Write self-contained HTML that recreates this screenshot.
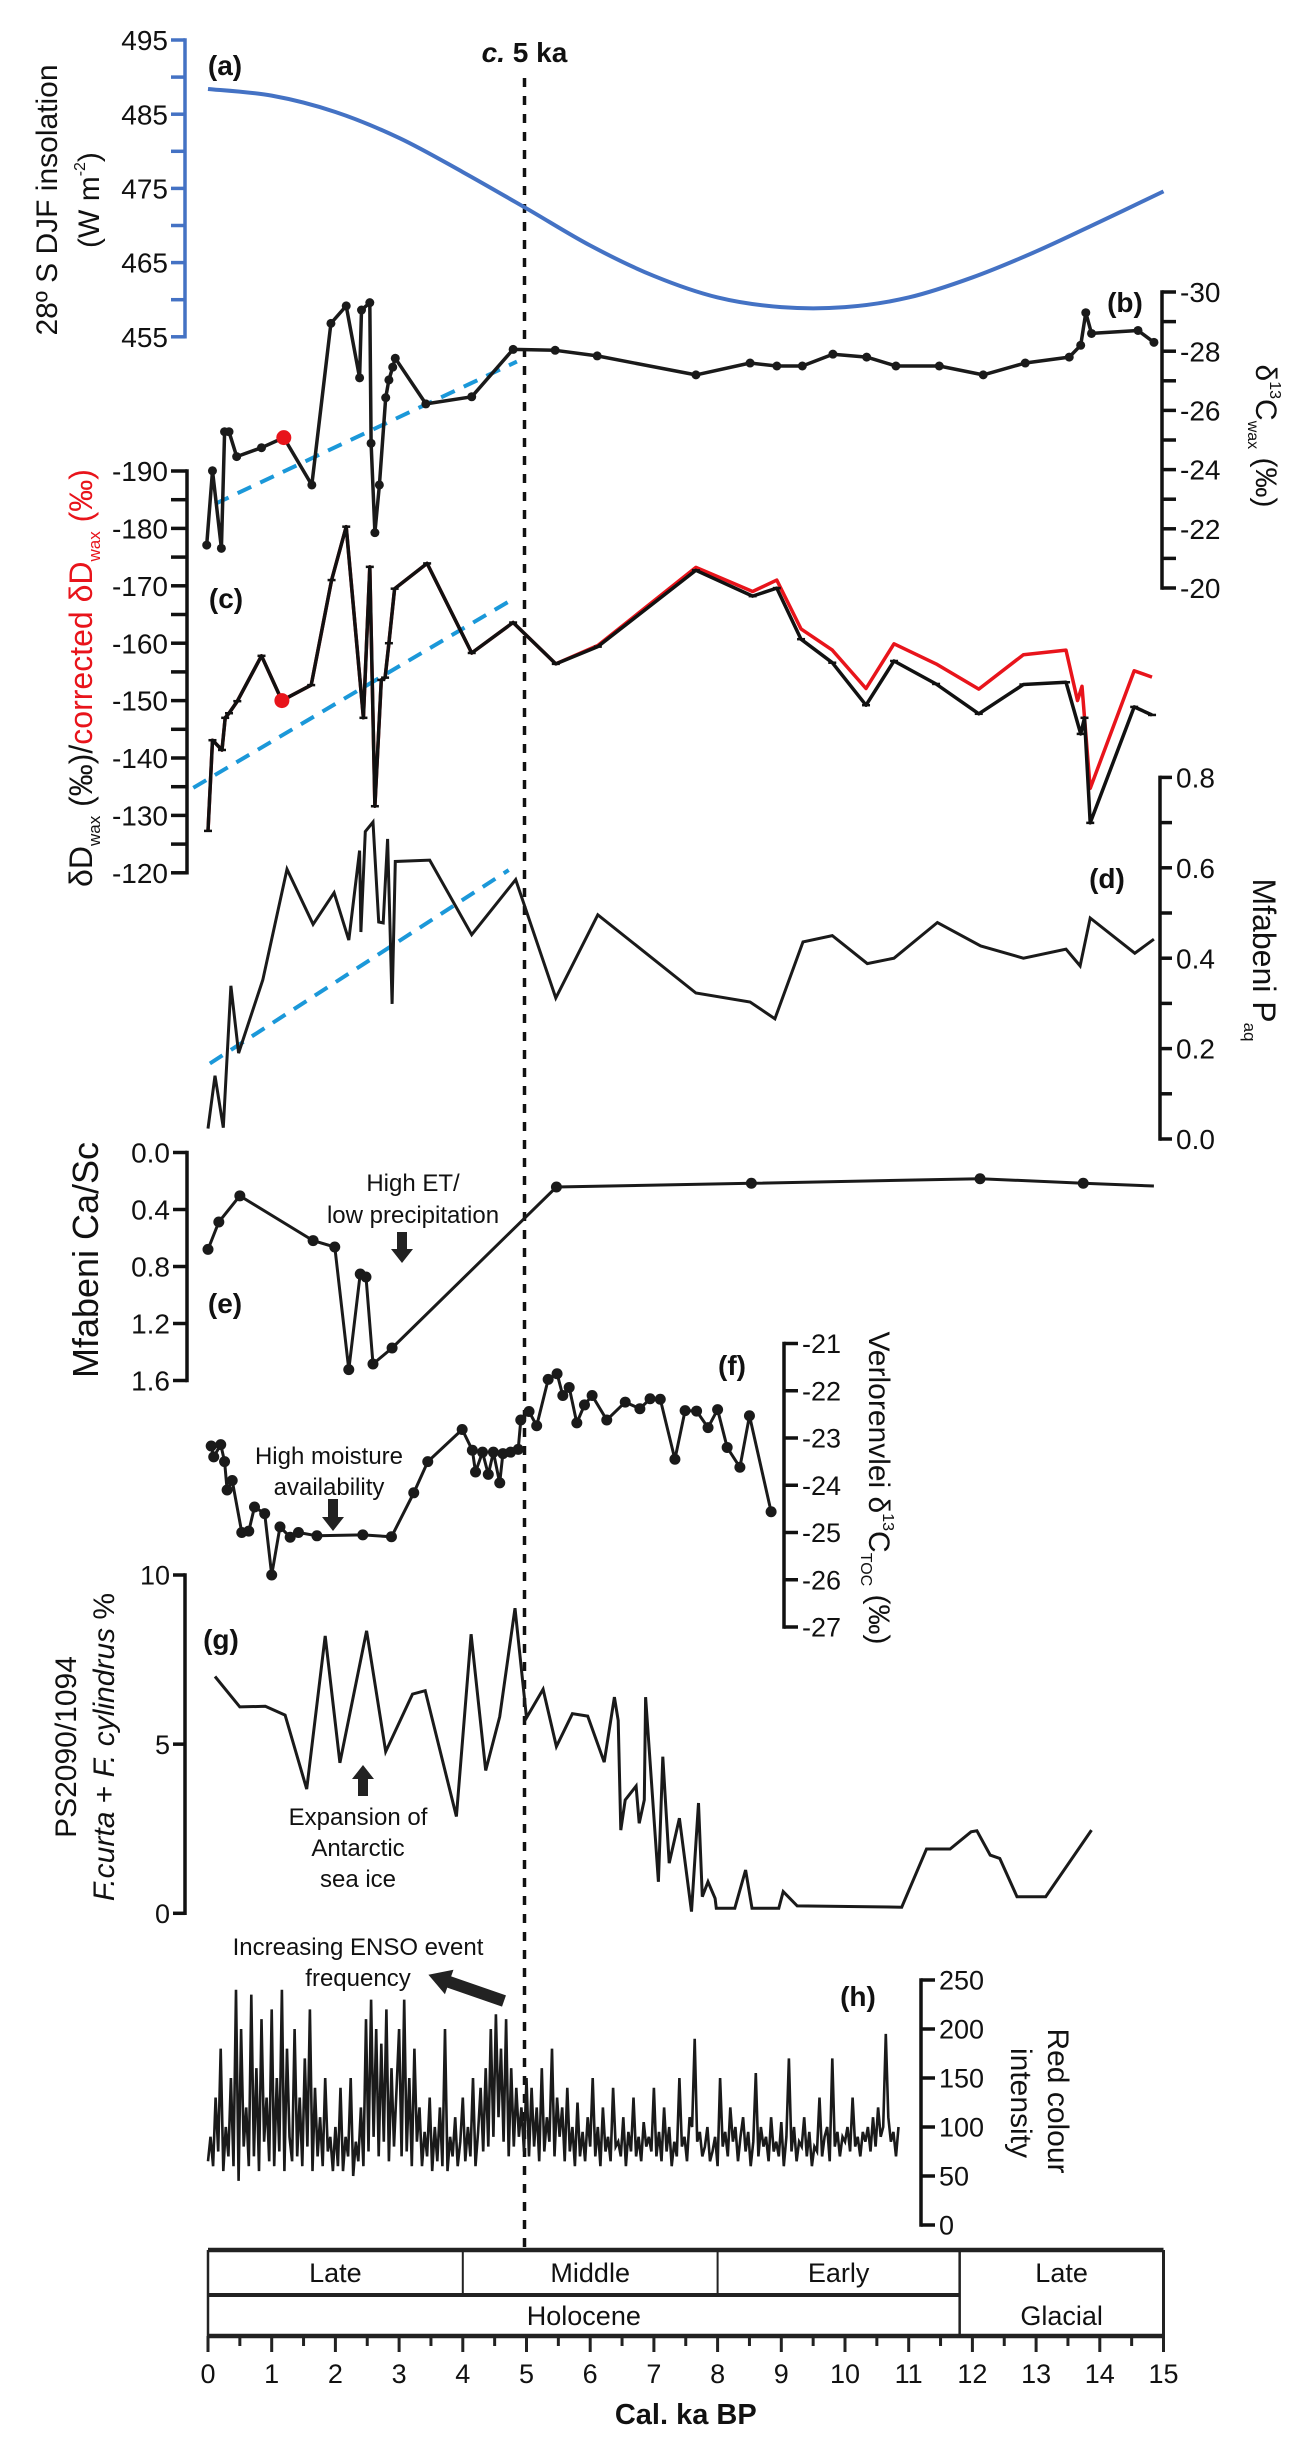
<!DOCTYPE html>
<html>
<head>
<meta charset="utf-8">
<style>
html,body{margin:0;padding:0;background:#fff;}
svg{display:block;}
text{font-family:"Liberation Sans Narrow","Liberation Sans",sans-serif;fill:#111;}
.wide{font-family:"Liberation Sans",sans-serif;}
</style>
</head>
<body>
<svg id="fig" xmlns="http://www.w3.org/2000/svg" width="1303" height="2447" viewBox="0 0 1303 2447">
<rect x="0" y="0" width="1303" height="2447" fill="#fff"/>
</svg>
<script>
// ---------- data ----------
const insAge = [0,1,2,3,4,5,6,7,8,9,10,11,12,13,14,15];
const insVal = [488.4,487.5,485.3,481.8,477.2,472.3,467.3,463.2,460.3,459.0,459.0,460.3,463.0,466.5,470.5,474.6];

const c13Age = [-0.02,0.07,0.21,0.26,0.33,0.45,0.84,1.19,1.63,1.93,2.17,2.38,2.41,2.54,2.56,2.62,2.69,2.79,2.84,2.9,2.94,3.42,4.14,4.79,5.45,6.11,7.66,8.51,8.93,9.33,9.81,10.34,10.8,11.48,12.17,12.83,13.52,13.7,13.78,13.87,14.6,14.85];
const c13Val = [-21.45,-23.96,-21.34,-25.28,-25.28,-24.44,-24.74,-25.08,-23.48,-28.94,-29.53,-27.1,-29.39,-29.64,-24.89,-21.87,-23.48,-26.43,-27.03,-27.46,-27.76,-26.22,-26.46,-28.06,-28.03,-27.84,-27.2,-27.6,-27.5,-27.5,-27.9,-27.8,-27.5,-27.5,-27.2,-27.6,-27.8,-28.2,-29.3,-28.6,-28.7,-28.3];

const dDAge = [0,0.07,0.22,0.27,0.33,0.46,0.84,1.16,1.62,1.94,2.17,2.44,2.54,2.62,2.72,2.78,2.84,2.93,3.44,4.14,4.79,5.46,6.12,7.66,8.55,8.93,9.31,9.8,10.33,10.77,11.43,12.1,12.8,13.47,13.7,13.76,13.85,14.54,14.82];
const dDVal = [-127.3,-143.1,-141.4,-147,-147.8,-149.9,-157.8,-150,-152.7,-171,-180.3,-147,-173.3,-131.6,-153.6,-154,-160,-169.5,-173.9,-158.3,-163.6,-156.4,-159.4,-172.7,-168.2,-169.6,-160.7,-156.6,-149.2,-156.9,-152.9,-147.7,-152.8,-153.2,-144.2,-147,-128.7,-148.9,-147.5];
const dDcorAge = [0,0.07,0.22,0.27,0.33,0.46,0.84,1.16,1.62,1.94,2.17,2.44,2.54,2.62,2.72,2.78,2.84,2.93,3.44,4.14,4.79,5.46,6.12,7.66,8.55,8.93,9.31,9.8,10.33,10.77,11.43,12.1,12.8,13.47,13.65,13.72,13.85,14.54,14.82];
const dDcorVal = [-127.3,-143.1,-141.4,-147,-147.8,-149.9,-157.8,-150,-152.7,-171,-180.3,-147,-173.3,-131.6,-153.6,-154,-160,-169.5,-173.9,-158.3,-163.6,-156.4,-159.6,-173.2,-169,-171,-162.5,-158.8,-152.1,-159.9,-156.4,-152,-158,-158.8,-150,-152.5,-134.7,-155.2,-154.1];

const paqAge = [0,0.11,0.24,0.36,0.48,0.86,1.24,1.65,1.98,2.21,2.38,2.4,2.47,2.59,2.68,2.75,2.82,2.89,2.94,3.48,4.14,4.83,5.46,6.12,7.66,8.51,8.9,9.34,9.8,10.35,10.77,11.45,12.13,12.8,13.47,13.69,13.85,14.55,14.85];
const paqVal = [0.023,0.14,0.025,0.339,0.19,0.352,0.597,0.475,0.545,0.44,0.638,0.458,0.68,0.701,0.48,0.478,0.664,0.299,0.614,0.617,0.452,0.574,0.312,0.496,0.323,0.303,0.266,0.436,0.45,0.388,0.40,0.479,0.427,0.40,0.42,0.383,0.489,0.411,0.442];

const caAge = [0,0.17,0.5,1.65,1.99,2.21,2.39,2.48,2.59,2.89,5.47,8.53,12.12,13.74,14.85];
const caVal = [0.68,0.488,0.304,0.618,0.663,1.524,0.853,0.874,1.484,1.372,0.242,0.216,0.184,0.216,0.235];

const vAge = [0.05,0.09,0.2,0.26,0.3,0.38,0.53,0.64,0.73,0.89,1.0,1.13,1.29,1.42,1.71,2.43,2.88,3.23,3.45,3.99,4.15,4.2,4.31,4.4,4.48,4.58,4.63,4.75,4.87,4.91,5.04,5.16,5.34,5.48,5.57,5.67,5.79,5.91,6.03,6.26,6.55,6.78,6.94,7.1,7.33,7.49,7.67,7.85,8.0,8.15,8.35,8.5,8.84];
const vVal = [-23.17,-23.4,-23.14,-23.5,-24.1,-23.9,-25.0,-24.97,-24.46,-24.6,-25.9,-24.88,-25.1,-25.0,-25.07,-25.05,-25.09,-24.16,-23.5,-22.82,-23.26,-23.72,-23.3,-23.77,-23.3,-23.95,-23.33,-23.3,-23.24,-22.62,-22.44,-22.74,-21.76,-21.64,-22.1,-21.93,-22.68,-22.3,-22.1,-22.62,-22.24,-22.38,-22.17,-22.18,-23.45,-22.42,-22.43,-22.78,-22.4,-23.2,-23.62,-22.53,-24.56];

const gAge = [0.11,0.5,0.9,1.21,1.55,1.84,2.07,2.49,2.79,3.21,3.41,3.9,4.13,4.36,4.58,4.82,5.0,5.26,5.47,5.72,5.96,6.22,6.38,6.44,6.48,6.55,6.72,6.77,6.85,6.87,7.07,7.14,7.24,7.4,7.59,7.7,7.76,7.85,7.96,7.98,8.27,8.44,8.54,8.96,9.03,9.25,10.89,11.28,11.65,11.98,12.07,12.28,12.43,12.7,13.15,13.87];
const gVal = [7.0,6.1,6.12,5.86,3.67,8.2,4.45,8.35,4.78,6.48,6.58,2.86,8.25,4.22,5.81,9.02,5.78,6.62,4.93,5.9,5.83,4.47,6.39,5.7,2.46,3.35,3.76,2.66,3.35,6.39,0.93,4.63,1.48,2.81,0.05,3.26,0.49,0.93,0.44,0.15,0.15,1.28,0.15,0.15,0.64,0.22,0.18,1.9,1.9,2.41,2.44,1.72,1.62,0.49,0.49,2.46];

const redStep = 0.04;
const redVal = [
65,90,60,130,75,180,55,100,70,150,60,240,45,200,80,120,60,235,70,160,55,210,85,130,65,
220,60,150,75,240,55,180,90,65,200,70,130,60,170,80,220,55,140,70,110,60,150,75,90,55,
100,60,140,55,90,70,150,50,85,65,120,60,210,75,230,90,200,70,185,85,220,65,160,80,140,
200,70,230,75,150,60,180,85,120,60,95,70,130,55,100,65,120,60,200,55,90,70,110,60,85,
130,65,100,70,150,60,95,140,75,160,80,200,90,215,110,180,85,210,70,160,80,140,90,120,75,
150,70,140,80,120,65,160,75,110,85,180,70,130,90,120,65,140,75,100,60,125,70,95,65,110,
80,150,70,100,60,120,75,90,65,140,80,85,70,110,60,95,75,130,70,90,65,105,80,90,75,
140,70,95,65,120,75,100,60,85,70,150,80,90,65,110,100,190,85,95,70,80,100,65,75,90,
60,150,80,95,70,120,85,100,65,90,110,75,95,60,85,155,70,100,80,90,65,110,75,85,70,
105,60,90,170,75,100,65,85,80,110,70,95,60,80,75,130,70,90,100,65,170,80,95,70,90,
85,100,75,130,80,90,70,95,85,100,75,110,80,120,90,100,195,110,85,95,70,100];

// trend lines (age, value) endpoints
const trendBAge = [0.11,4.85], trendBVal = [-22.84,-27.65];
const trendCAge = [-0.23,4.76], trendCVal = [-134.8,-167.5];
const trendDAge = [0.03,4.72], trendDVal = [0.167,0.595];

const xTicks = [0,1,2,3,4,5,6,7,8,9,10,11,12,13,14,15];

// ---------- scales ----------
const X = t => 208 + 63.7*t;
const yIns = v => 40 + (495-v)*7.42;
const y13 = v => 292 + (v+30)*29.6;
const yD = v => 471 + (v+190)*5.74;
const yP = v => 1139 - v*452;
const yCa = v => 1152.5 + v*142.5;
const yF = v => 1343.5 + (-21 - v)*47.25;
const yG = v => 1913.3 - v*33.83;
const yH = v => 2225 - v*0.98;

const svg = document.getElementById('fig');
const NS = 'http://www.w3.org/2000/svg';
function mk(tag, attrs, parent){
  const e = document.createElementNS(NS, tag);
  for (const k in attrs) e.setAttribute(k, attrs[k]);
  (parent||svg).appendChild(e);
  return e;
}
function txt(s, x, y, size, opts){
  opts = opts||{};
  const e = mk('text', {x:x, y:y, 'font-size':size, 'text-anchor':opts.anchor||'middle'});
  if (opts.bold) e.setAttribute('font-weight','bold');
  if (opts.cls) e.setAttribute('class', opts.cls);
  if (opts.fill) e.setAttribute('fill', opts.fill);
  if (opts.rot) e.setAttribute('transform','rotate('+opts.rot+' '+x+' '+y+')');
  e.textContent = s;
  return e;
}
function pathFrom(ages, vals, ys){
  let d='';
  for (let i=0;i<ages.length;i++) d += (i?'L':'M') + X(ages[i]).toFixed(1)+' '+ys(vals[i]).toFixed(1);
  return d;
}

// ---------- axes ----------
function vAxis(name, x, ys, majors, minors, labels, side, color, lblSize, tickLen){
  const g = mk('g', {});
  
  
  const all = majors.concat(minors);
  const vmin = Math.min.apply(null, all), vmax = Math.max.apply(null, all);
  mk('line', {x1:x, x2:x, y1:ys(vmax), y2:ys(vmin), stroke:color, 'stroke-width':3.5, 'stroke-linecap':'square'}, g);
  const dir = side==='left' ? -1 : 1;
  majors.forEach((v,i)=>{
    mk('line', {x1:x, x2:x+dir*tickLen, y1:ys(v), y2:ys(v), stroke:color, 'stroke-width':3.5}, g);
    const t = mk('text', {x: side==='left'? x-tickLen-3 : x+tickLen+4, y: ys(v)+lblSize*0.36, 'font-size':lblSize, 'text-anchor': side==='left'?'end':'start'}, g);
    t.textContent = labels[i];
  });
  minors.forEach(v=>{
    mk('line', {x1:x, x2:x+dir*tickLen, y1:ys(v), y2:ys(v), stroke:color, 'stroke-width':3.5}, g);
  });
  return g;
}

const insMaj=[495,485,475,465,455], insMin=[490,480,470,460];
vAxis('insolation-axis', 185, yIns, insMaj, insMin, insMaj.map(String), 'left', '#4472c4', 28, 14);
const c13Maj=[-30,-28,-26,-24,-22,-20], c13Min=[-29,-27,-25,-23,-21];
vAxis('d13c-wax-axis', 1162, y13, c13Maj, c13Min, c13Maj.map(String), 'right', '#111', 28, 14);
const dDMaj=[-190,-180,-170,-160,-150,-140,-130,-120], dDMin=[-185,-175,-165,-155,-145,-135,-125];
vAxis('dd-wax-axis', 187, yD, dDMaj, dDMin, dDMaj.map(String), 'left', '#111', 28, 16);
const pMaj=[0,0.2,0.4,0.6,0.8], pMin=[0.1,0.3,0.5,0.7];
vAxis('paq-axis', 1160, yP, pMaj, pMin, pMaj.map(v=>v.toFixed(1)), 'right', '#111', 28, 12);
const caMaj=[0,0.4,0.8,1.2,1.6];
vAxis('ca-sc-axis', 187, yCa, caMaj, [], caMaj.map(v=>v.toFixed(1)), 'left', '#111', 28, 14);
const fMaj=[-21,-22,-23,-24,-25,-26,-27];
vAxis('verlorenvlei-axis', 784, yF, fMaj, [], fMaj.map(String), 'right', '#111', 27, 14);
const gMaj=[10,5,0];
vAxis('diatom-axis', 185, yG, gMaj, [], gMaj.map(String), 'left', '#111', 27, 12);
const hMaj=[0,50,100,150,200,250];
vAxis('red-colour-axis', 921, yH, hMaj, [], hMaj.map(String), 'right', '#111', 27, 14);

// ---------- 5 ka line ----------
const ka5 = mk('line', {x1:X(5)-2, x2:X(5)-2, y1:78, y2:2250, stroke:'#111', 'stroke-width':3.5, 'stroke-dasharray':'9 9'});


const ka5t = mk('text', {x:X(5)-2, y:62, 'font-size':28, 'text-anchor':'middle', 'font-weight':'bold'});


ka5t.innerHTML = '<tspan font-style="italic">c.</tspan> 5 ka';

// ---------- trend lines ----------
[[trendBAge,trendBVal,y13,'trend-b'],[trendCAge,trendCVal,yD,'trend-c'],[trendDAge,trendDVal,yP,'trend-d']].forEach(a=>{
  const p = mk('path', {d:pathFrom(a[0],a[1],a[2]), stroke:'#1b98d9', 'stroke-width':4, fill:'none', 'stroke-dasharray':'15 10'});
  
  
});

// ---------- insolation curve ----------
(function(){
  const pts = insAge.map((t,i)=>[X(t), yIns(insVal[i])]);
  let d = 'M'+pts[0][0]+' '+pts[0][1];
  for (let i=0;i<pts.length-1;i++){
    const p0=pts[Math.max(0,i-1)], p1=pts[i], p2=pts[i+1], p3=pts[Math.min(pts.length-1,i+2)];
    const c1=[p1[0]+(p2[0]-p0[0])/6, p1[1]+(p2[1]-p0[1])/6];
    const c2=[p2[0]-(p3[0]-p1[0])/6, p2[1]-(p3[1]-p1[1])/6];
    d += 'C'+c1.join(' ')+' '+c2.join(' ')+' '+p2.join(' ');
  }
  const p = mk('path', {d:d, stroke:'#4472c4', 'stroke-width':4, fill:'none'});
  
  
})();

// ---------- d13C wax ----------
const c13line = mk('path', {d:pathFrom(c13Age,c13Val,y13), stroke:'#1a1a1a', 'stroke-width':3.5, fill:'none', 'stroke-linejoin':'round'});


c13Age.forEach((t,i)=>{
  if (i===7) return;
  const c = mk('circle', {cx:X(t), cy:y13(c13Val[i]), r:4.5, fill:'#1a1a1a'});
  
  
});
const red13 = mk('circle', {cx:X(c13Age[7]), cy:y13(c13Val[7]), r:7.5, fill:'#e8141b'});



// ---------- dD wax ----------
const dDred = mk('path', {d:pathFrom(dDcorAge,dDcorVal,yD), stroke:'#e8141b', 'stroke-width':3.5, fill:'none', 'stroke-linejoin':'round'});


const dDblk = mk('path', {d:pathFrom(dDAge,dDVal,yD), stroke:'#111', 'stroke-width':3.5, fill:'none', 'stroke-linejoin':'round'});


dDAge.forEach((t,i)=>{
  const m = mk('line', {x1:X(t)-4, x2:X(t)+4, y1:yD(dDVal[i]), y2:yD(dDVal[i]), stroke:'#111', 'stroke-width':2.5});
  
  
});
const redD = mk('circle', {cx:X(dDAge[7]), cy:yD(dDVal[7]), r:7.5, fill:'#e8141b'});



// ---------- Paq ----------
const paqLine = mk('path', {d:pathFrom(paqAge,paqVal,yP), stroke:'#1a1a1a', 'stroke-width':3, fill:'none'});



// ---------- Ca/Sc ----------
const caLine = mk('path', {d:pathFrom(caAge,caVal,yCa), stroke:'#1a1a1a', 'stroke-width':3, fill:'none'});


caAge.forEach((t,i)=>{
  if (i===caAge.length-1) return;
  const c = mk('circle', {cx:X(t), cy:yCa(caVal[i]), r:5.5, fill:'#1a1a1a'});
  
  
});

// ---------- Verlorenvlei ----------
const vLine = mk('path', {d:pathFrom(vAge,vVal,yF), stroke:'#1a1a1a', 'stroke-width':3, fill:'none'});


vAge.forEach((t,i)=>{
  const c = mk('circle', {cx:X(t), cy:yF(vVal[i]), r:5.5, fill:'#1a1a1a'});
  
  
});

// ---------- diatoms ----------
const gLine = mk('path', {d:pathFrom(gAge,gVal,yG), stroke:'#1a1a1a', 'stroke-width':3, fill:'none'});



// ---------- red colour ----------
(function(){
  const ages = redVal.map((v,i)=>i*redStep);
  const p = mk('path', {d:pathFrom(ages, redVal, yH), stroke:'#1a1a1a', 'stroke-width':2.6, fill:'none', 'stroke-linejoin':'miter'});
  
  
})();

// ---------- panel letters ----------
[['(a)',225,75],['(b)',1125,312],['(c)',226,608],['(d)',1107,888],['(e)',225,1313],['(f)',732,1375],['(g)',221,1649],['(h)',858,2006]].forEach(a=>{
  const t = txt(a[0], a[1], a[2], 28, {bold:true});
  
  
});

// ---------- axis titles ----------
let t;
t = mk('text', {x:57, y:200, 'font-size':30, 'text-anchor':'middle', class:'wide', transform:'rotate(-90 57 200)'});


t.innerHTML = '28º S DJF insolation';
t = mk('text', {x:99, y:200, 'font-size':30, 'text-anchor':'middle', class:'wide', transform:'rotate(-90 99 200)'});


t.innerHTML = '(W m<tspan font-size="16" dy="-14">-2</tspan><tspan dy="14">)</tspan>';

t = mk('text', {x:1256, y:436, 'font-size':30, 'text-anchor':'middle', class:'wide', transform:'rotate(90 1256 436)'});


t.innerHTML = 'δ<tspan font-size="16" dy="-14">13</tspan><tspan dy="14">C</tspan><tspan font-size="16" dy="8">wax</tspan><tspan dy="-8"> (‰)</tspan>';

t = mk('text', {x:92, y:678, 'font-size':32, 'text-anchor':'middle', class:'wide', transform:'rotate(-90 92 678)'});


t.innerHTML = 'δD<tspan font-size="17" dy="8">wax</tspan><tspan dy="-8"> (‰)/</tspan><tspan fill="#e8141b">corrected δD</tspan><tspan fill="#e8141b" font-size="17" dy="8">wax</tspan><tspan fill="#e8141b" dy="-8"> (‰)</tspan>';

t = mk('text', {x:1253, y:960, 'font-size':32, 'text-anchor':'middle', class:'wide', transform:'rotate(90 1253 960)'});


t.innerHTML = 'Mfabeni P<tspan font-size="17" dy="9">aq</tspan>';

t = mk('text', {x:98, y:1260, 'font-size':36, 'text-anchor':'middle', class:'wide', transform:'rotate(-90 98 1260)'});


t.textContent = 'Mfabeni Ca/Sc';

t = mk('text', {x:869, y:1488, 'font-size':30, 'text-anchor':'middle', class:'wide', transform:'rotate(90 869 1488)'});


t.innerHTML = 'Verlorenvlei δ<tspan font-size="16" dy="-14">13</tspan><tspan dy="14">C</tspan><tspan font-size="16" dy="8">TOC</tspan><tspan dy="-8"> (‰)</tspan>';

t = mk('text', {x:76, y:1747, 'font-size':30, 'text-anchor':'middle', class:'wide', transform:'rotate(-90 76 1747)'});


t.textContent = 'PS2090/1094';
t = mk('text', {x:114, y:1747, 'font-size':30, 'text-anchor':'middle', class:'wide', transform:'rotate(-90 114 1747)'});


t.innerHTML = '<tspan font-style="italic">F.curta</tspan> + <tspan font-style="italic">F. cylindrus</tspan> %';

t = mk('text', {x:1048, y:2101, 'font-size':30, 'text-anchor':'middle', class:'wide', transform:'rotate(90 1048 2101)'});


t.textContent = 'Red colour';
t = mk('text', {x:1011, y:2103, 'font-size':30, 'text-anchor':'middle', class:'wide', transform:'rotate(90 1011 2103)'});


t.textContent = 'intensity';

// ---------- annotations ----------
function annot(lines, x, y0, dy, name){
  lines.forEach((s,i)=>{
    const a = txt(s, x, y0+i*dy, 24, {fill:'#333'});
    
    
  });
}
annot(['High ET/','low precipitation'], 413, 1191, 32, 'high-et-annotation');
annot(['High moisture','availability'], 329, 1464, 31, 'high-moisture-annotation');
annot(['Expansion of','Antarctic','sea ice'], 358, 1825, 31, 'sea-ice-annotation');
annot(['Increasing ENSO event','frequency'], 358, 1955, 31, 'enso-annotation');

function downArrow(x, yTop, yTip, name){
  const p = mk('path', {d:'M'+(x-5)+' '+yTop+'L'+(x+5)+' '+yTop+'L'+(x+5)+' '+(yTip-14)+'L'+(x+11)+' '+(yTip-14)+'L'+x+' '+yTip+'L'+(x-11)+' '+(yTip-14)+'L'+(x-5)+' '+(yTip-14)+'Z', fill:'#222'});
  
  
}
downArrow(402, 1232, 1263, 'high-et-arrow');
downArrow(333, 1499, 1531, 'high-moisture-arrow');
(function(){
  const x=363, yB=1796, yT=1765;
  const p = mk('path', {d:'M'+(x-5)+' '+yB+'L'+(x+5)+' '+yB+'L'+(x+5)+' '+(yT+14)+'L'+(x+11)+' '+(yT+14)+'L'+x+' '+yT+'L'+(x-11)+' '+(yT+14)+'L'+(x-5)+' '+(yT+14)+'Z', fill:'#222'});
  
  
})();
(function(){
  const g = mk('g', {transform:'translate(504 2001) rotate('+(Math.atan2(1975-2001,429-504)*180/Math.PI)+')'});
  
  
  mk('path', {d:'M0 -6L58 -6L58 -13L80 0L58 13L58 6L0 6Z', fill:'#222'}, g);
})();

// ---------- bottom chronology table ----------
(function(){
  const g = mk('g', {});
  
  
  const x0=X(0), x1=X(15), yT=2250, yM=2295, yB=2336;
  mk('line',{x1:x0,x2:x1,y1:yT,y2:yT,stroke:'#222','stroke-width':4.5},g);
  mk('line',{x1:x0,x2:x1,y1:yB,y2:yB,stroke:'#222','stroke-width':4.5},g);
  mk('line',{x1:x0,x2:X(11.8),y1:yM,y2:yM,stroke:'#222','stroke-width':4},g);
  mk('line',{x1:x0,x2:x0,y1:yT,y2:yB,stroke:'#222','stroke-width':2.5},g);
  mk('line',{x1:x1,x2:x1,y1:yT,y2:yB,stroke:'#222','stroke-width':3},g);
  mk('line',{x1:X(4),x2:X(4),y1:yT,y2:yM,stroke:'#222','stroke-width':2},g);
  mk('line',{x1:X(8),x2:X(8),y1:yT,y2:yM,stroke:'#222','stroke-width':2},g);
  mk('line',{x1:X(11.8),x2:X(11.8),y1:yT,y2:yB,stroke:'#222','stroke-width':2.5},g);
  const cells=[['Late',2,2282],['Middle',6,2282],['Early',9.9,2282],['Holocene',5.9,2325],['Late',13.4,2282],['Glacial',13.4,2325]];
  cells.forEach(c=>{
    const e = mk('text',{x:X(c[1]),y:c[2],'font-size':27,'text-anchor':'middle'},g);
    e.textContent=c[0];
  });
})();
(function(){
  const g = mk('g', {});
  
  
  xTicks.forEach(v=>{
    mk('line',{x1:X(v),x2:X(v),y1:2336,y2:2352,stroke:'#222','stroke-width':3},g);
    const e = mk('text',{x:X(v),y:2383,'font-size':27,'text-anchor':'middle'},g);
    e.textContent=String(v);
    if (v<15) mk('line',{x1:X(v+0.5),x2:X(v+0.5),y1:2336,y2:2346,stroke:'#222','stroke-width':3},g);
  });
})();
t = txt('Cal. ka BP', X(7.5), 2424, 29, {bold:true});


</script>
</body>
</html>
